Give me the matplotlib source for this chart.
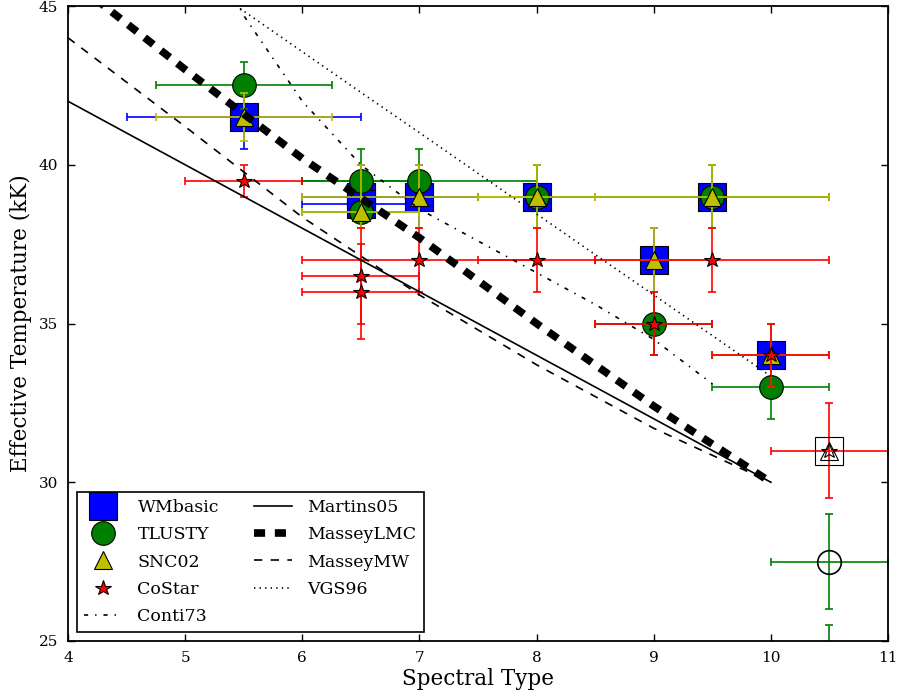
import matplotlib
matplotlib.use("Agg")
import matplotlib.pyplot as plt

plt.rcParams['font.family'] = 'serif'
plt.rcParams['font.serif'] = ['DejaVu Serif']
plt.rcParams['lines.scale_dashes'] = False

# Teff (kK) derived with each model atmosphere, against spectral type
wm_x = [5.5, 6.5, 6.5, 7.0, 8.0, 9.0, 9.5, 10.0]
wm_y = [41.5, 39.0, 38.75, 39.0, 39.0, 37.0, 39.0, 34.0]
wm_xerr = [1.0, 0.5, 0.5, 0.5, 0.5, 0.5, 1.0, 0.5]
wm_yerr = [1.0, 1.0, 0.75, 1.0, 1.0, 1.0, 1.0, 1.0]

tl_x = [5.5, 6.5, 6.5, 7.0, 8.0, 9.0, 9.5, 10.0]
tl_y = [42.5, 39.5, 38.5, 39.5, 39.0, 35.0, 39.0, 33.0]
tl_xerr = [0.75, 0.5, 0.5, 1.0, 0.5, 0.5, 1.0, 0.5]
tl_yerr_lo = [0.75, 1.0, 0.5, 0.5, 1.0, 1.0, 1.0, 1.0]
tl_yerr_hi = [0.75, 1.0, 0.5, 1.0, 1.0, 1.0, 1.0, 1.0]

snc_x = [5.5, 6.5, 7.0, 8.0, 9.0, 9.5, 10.0]
snc_y = [41.5, 38.5, 39.0, 39.0, 37.0, 39.0, 34.0]
snc_xerr = [0.75, 0.5, 1.0, 0.5, 0.5, 1.0, 0.5]
snc_yerr_lo = [0.75, 0.5, 1.0, 1.0, 1.0, 1.0, 1.0]
snc_yerr_hi = [0.75, 1.5, 1.0, 1.0, 1.0, 1.0, 1.0]

co_x = [5.5, 6.5, 6.5, 7.0, 8.0, 9.0, 9.5, 10.0]
co_y = [39.5, 36.5, 36.0, 37.0, 37.0, 35.0, 37.0, 34.0]
co_xerr = [0.5, 0.5, 0.5, 1.0, 0.5, 0.5, 1.0, 0.5]
co_yerr = [0.5, 1.5, 1.5, 1.0, 1.0, 1.0, 1.0, 1.0]

# latest type: open symbols
late_x = [10.5]
late_y = [31.0]
late_xerr = [0.5]
late_yerr = [1.5]
late_tl_x = [10.5, 10.5]
late_tl_y = [27.5, 24.0]
late_tl_xerr = [0.5, 0.5]
late_tl_yerr = [1.5, 1.5]

# calibrations
conti_x = [5.0, 5.5, 6.0, 6.5, 7.0, 7.5, 8.0, 8.5, 9.0, 9.5]
conti_y = [48.5, 44.7, 42.0, 40.0, 38.6, 37.6, 36.6, 35.6, 34.5, 33.1]
martins_x = [4, 5, 6, 7, 8, 9, 10]
martins_y = [42.0, 40.0, 38.0, 36.0, 34.0, 32.0, 30.0]
lmc_x = [4, 5, 6, 7, 8, 9, 10]
lmc_y = [45.9, 43.0, 40.2, 37.7, 35.0, 32.4, 30.0]
mw_x = [4, 5, 6, 7, 8, 9, 10]
mw_y = [44.0, 41.2, 38.35, 35.9, 33.7, 31.7, 30.0]
vgs_x = [4.0, 5.0, 5.5, 6.0, 6.5, 7.0, 7.5, 8.0, 8.5, 9.0, 9.5, 10.0]
vgs_y = [48.67, 46.12, 44.84, 43.56, 42.28, 41.01, 39.73, 38.45, 37.17, 35.90, 34.62, 33.34]

blue, green, yellow, red = (0, 0, 1), (0, 0.5, 0), (0.75, 0.75, 0), (1, 0, 0)

fig = plt.figure(figsize=(9.01, 6.96), dpi=100)
ax = fig.add_axes([68/901, 55/696, 820/901, 635/696])

eb = dict(fmt='none', elinewidth=1.2, capsize=3, capthick=1.2)
mk = dict(ls='none', mec='k', mew=0.8)

ax.errorbar(wm_x, wm_y, xerr=wm_xerr, yerr=wm_yerr, ecolor=blue, **eb)
ax.plot(wm_x, wm_y, marker='s', ms=20.5, mfc=blue, label='WMbasic', **mk)

ax.errorbar(tl_x, tl_y, xerr=tl_xerr, yerr=[tl_yerr_lo, tl_yerr_hi], ecolor=green, **eb)
ax.plot(tl_x, tl_y, marker='o', ms=17, mfc=green, label='TLUSTY', **mk)

ax.errorbar(snc_x, snc_y, xerr=snc_xerr, yerr=[snc_yerr_lo, snc_yerr_hi], ecolor=yellow, **eb)
ax.plot(snc_x, snc_y, marker='^', ms=13.5, mfc=yellow, label='SNC02', **mk)

ax.errorbar(co_x, co_y, xerr=co_xerr, yerr=co_yerr, ecolor=red, **eb)
ax.plot(co_x, co_y, marker='*', ms=11.5, mfc=red, label='CoStar', **mk)

ax.errorbar(late_x, late_y, xerr=late_xerr, yerr=late_yerr, ecolor=red, **eb)
ax.plot(late_x, late_y, marker='s', ms=20.5, mfc='none', **mk)
ax.plot(late_x, late_y, marker='^', ms=13.5, mfc='none', **mk)
ax.plot(late_x, late_y, marker='*', ms=11.5, mfc='none', **mk)
ax.errorbar(late_tl_x, late_tl_y, xerr=late_tl_xerr, yerr=late_tl_yerr, ecolor=green, **eb)
ax.plot(late_tl_x, late_tl_y, marker='o', ms=17, mfc='none', mec='k', mew=1.2, ls='none')

ax.plot(conti_x, conti_y, color='k', lw=1.2, ls=(0, (3, 5, 1, 5)), label='Conti73')
ax.plot(martins_x, martins_y, color='k', lw=1.2, ls='-', label='Martins05')
ax.plot(lmc_x, lmc_y, color='k', lw=5.5, ls=(0, (8, 7)), dash_capstyle='butt', label='MasseyLMC')
ax.plot(mw_x, mw_y, color='k', lw=1.2, ls=(0, (6, 6)), label='MasseyMW')
ax.plot(vgs_x, vgs_y, color='k', lw=1.2, ls=(0, (1, 3)), label='VGS96')

ax.set_xlim(4, 11)
ax.set_ylim(25, 45)
ax.set_xticks(range(4, 12))
ax.set_yticks([25, 30, 35, 40, 45])
ax.tick_params(direction='in', top=True, right=True, length=5, width=1, labelsize=11, pad=7)
for s in ax.spines.values():
    s.set_linewidth(1.3)

ax.set_xlabel('Spectral Type', fontsize=15.5, labelpad=2)
ax.set_ylabel('Effective Temperature (kK)', fontsize=15.5, labelpad=5)

leg = ax.legend(loc='lower left', ncol=2, numpoints=1, fontsize=12.5, handlelength=2.2,
                handletextpad=0.9, labelspacing=0.6, borderpad=0.4, columnspacing=2.0,
                borderaxespad=0.5, fancybox=False, framealpha=1)
leg.get_frame().set_edgecolor('k')
leg.get_frame().set_linewidth(1.2)

fig.savefig('out.png', dpi=100)
